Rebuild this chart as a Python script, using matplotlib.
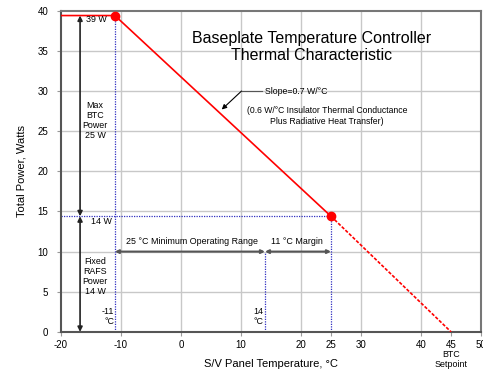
import matplotlib.pyplot as plt
import numpy as np

plt.rcParams['font.family'] = ['Liberation Sans', 'DejaVu Sans']
plt.rcParams['axes.unicode_minus'] = False

# BTC characteristic
temp_line = [-20, -11, 25]
power_line = [39.4, 39.4, 14.4]
temp_ext = [25, 45]
power_ext = [14.4, 0]
temp_pts = [-11, 25]
power_pts = [39.4, 14.4]

x_ticks = [-20, -10, 0, 10, 20, 25, 30, 40, 45, 50]
y_ticks = [0, 5, 10, 15, 20, 25, 30, 35, 40]
x_grid = [-10, 0, 10, 20, 30, 40]
y_grid = [5, 10, 15, 20, 25, 30, 35]

t_min, t_margin, t_max = -11, 14, 25
p_fixed, p_max = 14.4, 39.4
arrow_x = -16.8
range_y = 10

fig = plt.figure(figsize=(4.83, 3.70), dpi=100)
ax = fig.add_axes([0.126, 0.103, 0.870, 0.868])
ax.set_xlim(-20, 50)
ax.set_ylim(0, 40)

for g in x_grid:
    ax.axvline(g, color='#c8c8c8', lw=1, zorder=0)
for g in y_grid:
    ax.axhline(g, color='#c8c8c8', lw=1, zorder=0)

# blue dotted guides
dot = dict(color='#3030c0', lw=0.9, ls=(0, (1, 1)), zorder=1)
ax.plot([t_min, t_min], [0, p_max], **dot)
ax.plot([t_max, t_max], [0, p_fixed], **dot)
ax.plot([-20, t_max], [p_fixed, p_fixed], **dot)
ax.plot([t_margin, t_margin], [0, range_y], **dot)

ax.plot(temp_line, power_line, color='red', lw=1.2, zorder=3)
ax.plot(temp_ext, power_ext, color='red', lw=1.2, ls=(0, (2, 1)), zorder=3)
ax.plot(temp_pts, power_pts, 'o', color='red', ms=6, zorder=4)

# power arrows
arw = dict(arrowstyle='<|-|>', color='#222222', lw=1.2, mutation_scale=7, shrinkA=0, shrinkB=0)
ax.annotate('', xy=(arrow_x, p_fixed), xytext=(arrow_x, p_max), arrowprops=arw)
ax.annotate('', xy=(arrow_x, 0), xytext=(arrow_x, p_fixed), arrowprops=arw)

# range arrows
arw2 = dict(arrowstyle='<|-|>', color='#555555', lw=1.5, mutation_scale=5, shrinkA=0, shrinkB=0)
ax.annotate('', xy=(t_min, range_y), xytext=(t_margin, range_y), arrowprops=arw2)
ax.annotate('', xy=(t_margin, range_y), xytext=(t_max, range_y), arrowprops=arw2)

fs = 6.4
ls = 1.15
ax.text(-15.8, 38.9, '39 W', fontsize=fs, va='center')
ax.text(-14.3, 26.3, 'Max\nBTC\nPower\n25 W', fontsize=fs, ha='center', va='center', linespacing=ls)
ax.text(-15.0, 13.8, '14 W', fontsize=fs, va='center')
ax.text(-14.3, 6.9, 'Fixed\nRAFS\nPower\n14 W', fontsize=fs, ha='center', va='center', linespacing=ls)
ax.text(-11.1, 1.9, '-11\n°C', fontsize=fs, ha='right', va='center', linespacing=ls)
ax.text(13.8, 1.9, '14\n°C', fontsize=fs, ha='right', va='center', linespacing=ls)
ax.text(-9.1, 11.2, '25 °C Minimum Operating Range', fontsize=fs, va='center')
ax.text(19.3, 11.2, '11 °C Margin', fontsize=fs, ha='center', va='center')

ax.text(21.8, 35.5, 'Baseplate Temperature Controller\nThermal Characteristic',
        fontsize=11.5, ha='center', va='center', linespacing=1.22)

ax.plot([10.1, 13.5], [30.0, 30.0], color='#555555', lw=0.8)
ax.annotate('', xy=(6.8, 27.7), xytext=(10.1, 30.0),
            arrowprops=dict(arrowstyle='-|>', color='black', lw=0.8, mutation_scale=7, shrinkA=0, shrinkB=0))
ax.text(14.0, 30.0, 'Slope=0.7 W/°C', fontsize=6.3, va='center')
ax.text(24.3, 26.9, '(0.6 W/°C Insulator Thermal Conductance\nPlus Radiative Heat Transfer)',
        fontsize=6.2, ha='center', va='center', linespacing=1.2)

ax.set_xticks(x_ticks)
ax.set_yticks(y_ticks)
ax.tick_params(labelsize=7, length=3, color='#999999')
ax.tick_params(axis='x', pad=2.5)
ax.tick_params(axis='y', pad=6)
for s in ax.spines.values():
    s.set_color('#777777')
    s.set_linewidth(1.5)
ax.spines['bottom'].set_color('#555555')
ax.spines['left'].set_color('#555555')

ax.set_xlabel('S/V Panel Temperature, °C', fontsize=8, labelpad=7)
ax.set_ylabel('Total Power, Watts', fontsize=8, labelpad=8)
ax.text(45, -2.2, 'BTC\nSetpoint', fontsize=fs, ha='center', va='top', linespacing=ls)

fig.savefig('out.png', dpi=100)
